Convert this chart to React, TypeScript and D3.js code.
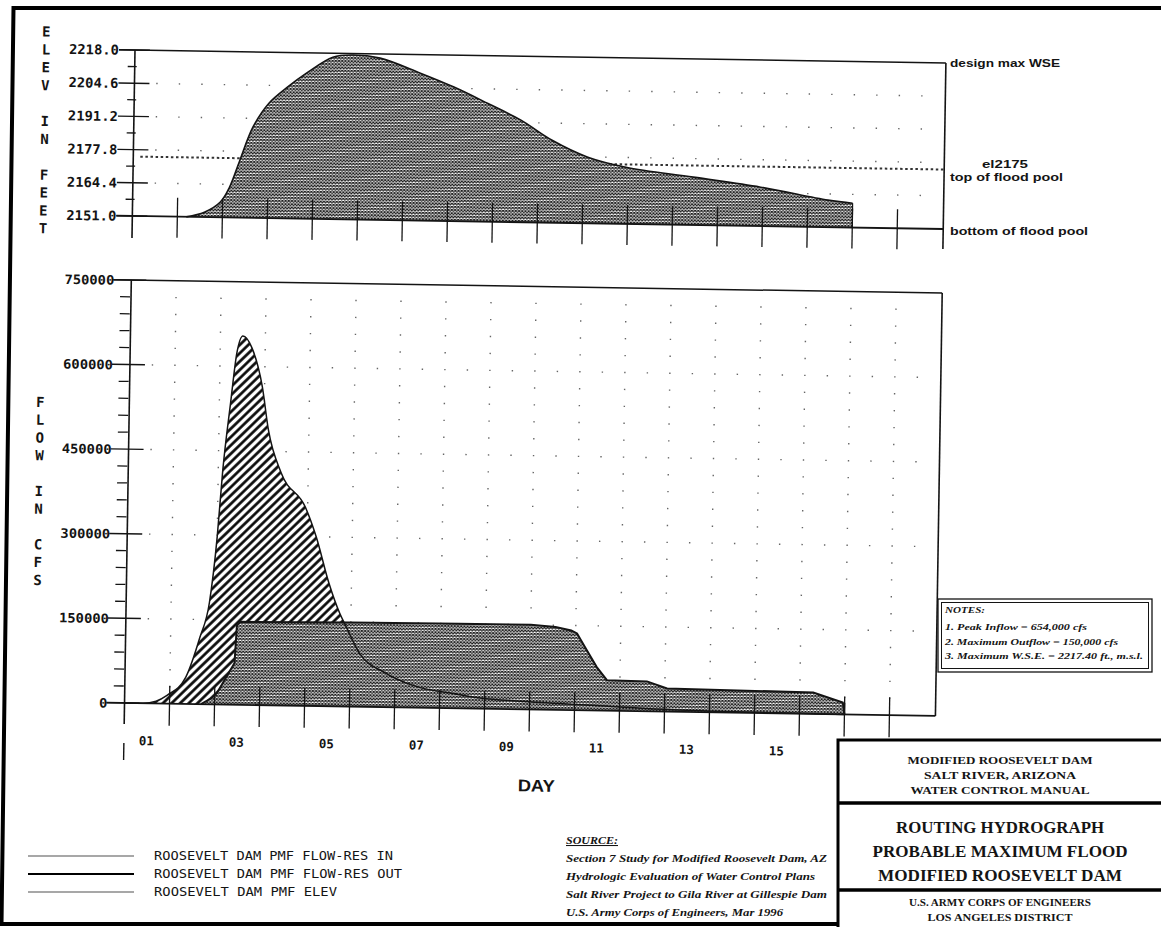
import React from 'react';
import * as d3 from 'd3';

// ---------- data ----------
const elevTicks = [2151.0, 2164.4, 2177.8, 2191.2, 2204.6, 2218.0];
const elevTickLabels = ['2151.0', '2164.4', '2177.8', '2191.2', '2204.6', '2218.0'];
const flowTicks = [0, 150000, 300000, 450000, 600000, 750000];
const flowTickLabels = ['0', '150000', '300000', '450000', '600000', '750000'];
const dayLabels = ['01', '03', '05', '07', '09', '11', '13', '15'];
const dayLabelDays = [1, 3, 5, 7, 9, 11, 13, 15];

const elevDays = [1.2, 1.6, 1.95, 2.15, 2.37, 2.65, 3.0, 3.4, 3.85, 4.4, 4.85, 5.45, 6.35, 7.1, 7.85, 8.6, 9.3, 10.1, 10.95, 12.45, 13.95, 15.45, 16.0];
const elevValues = [2151.0, 2153.0, 2157.2, 2163.3, 2174.2, 2187.7, 2197.5, 2204.0, 2210.2, 2216.4, 2217.4, 2216.3, 2210.5, 2205.1, 2198.8, 2192.2, 2184.3, 2177.7, 2173.9, 2170.3, 2166.7, 2161.9, 2160.8];

const inflowDays = [0, 0.4, 0.7, 0.95, 1.35, 1.65, 1.85, 2.0, 2.1, 2.25, 2.37, 2.5, 2.7, 2.95, 3.1, 3.4, 3.95, 4.2, 4.5, 4.75, 4.9, 5.2, 5.8, 6.55, 7.3, 7.9, 8.9, 10.4, 12.5, 14.5, 16.0];
const inflowValues = [0, 0, 4000, 15000, 47000, 118000, 180000, 297000, 415000, 535000, 623000, 654000, 634000, 564000, 488000, 412000, 352000, 300000, 218000, 165000, 141000, 95000, 60000, 36000, 26000, 19000, 14000, 9000, 3000, 1000, 0];

const outflowDays = [1.7, 1.95, 2.05, 2.43, 2.47, 2.55, 5.0, 7.4, 9.0, 9.55, 9.9, 10.03, 10.25, 10.48, 10.71, 11.6, 12.05, 15.3, 15.96, 16.0];
const outflowValues = [0, 12000, 20000, 74000, 141000, 147000, 149000, 150000, 150000, 147000, 141000, 136000, 107000, 77000, 54000, 53000, 41000, 38000, 21000, 0];

const floodPoolTop = 2175;
const axisTitleTop = ['E', 'L', 'E', 'V', '', 'I', 'N', '', 'F', 'E', 'E', 'T'];
const axisTitleBottom = ['F', 'L', 'O', 'W', '', 'I', 'N', '', 'C', 'F', 'S'];

const legendLabels = ['ROOSEVELT DAM PMF FLOW-RES IN', 'ROOSEVELT DAM PMF FLOW-RES OUT', 'ROOSEVELT DAM PMF ELEV'];
const notesLines = ['1.  Peak Inflow  =  654,000 cfs', '2.  Maximum Outflow =  150,000 cfs', '3.  Maximum W.S.E.  = 2217.40 ft., m.s.l.'];
const sourceLines = ['Section 7 Study for Modified Roosevelt Dam, AZ', 'Hydrologic Evaluation of Water Control Plans', 'Salt River Project to Gila River at Gillespie Dam', 'U.S. Army Corps of Engineers, Mar 1996'];
const titleTop = ['MODIFIED ROOSEVELT DAM', 'SALT RIVER, ARIZONA', 'WATER CONTROL MANUAL'];
const titleMid = ['ROUTING HYDROGRAPH', 'PROBABLE MAXIMUM FLOOD', 'MODIFIED ROOSEVELT DAM'];
const titleBot = ['U.S. ARMY CORPS OF ENGINEERS', 'LOS ANGELES DISTRICT'];

const MONO = "'DejaVu Sans Mono', 'Liberation Mono', monospace";
const SERIF = "'Liberation Serif', 'DejaVu Serif', serif";
const SANS = "'Liberation Sans', 'DejaVu Sans', sans-serif";
const INK = '#141414';

export default function App() {
  const x = d3.scaleLinear().domain([0, 18]).range([135, 945]);
  const yE = d3.scaleLinear().domain([2151, 2218]).range([216, 50]);
  const yF = d3.scaleLinear().domain([0, 750000]).range([703, 280]);

  const elevPts: [number, number][] = elevDays.map((d, i) => [d, elevValues[i]]);
  const inPts: [number, number][] = inflowDays.map((d, i) => [d, inflowValues[i]]);
  const outPts: [number, number][] = outflowDays.map((d, i) => [d, outflowValues[i]]);

  const smooth = d3.curveCatmullRom.alpha(0.5);
  const elevArea = d3.area<[number, number]>().x(d => x(d[0])).y0(yE(2151)).y1(d => yE(d[1])).curve(smooth)(elevPts) || '';
  const elevLine = d3.line<[number, number]>().x(d => x(d[0])).y(d => yE(d[1])).curve(smooth)(elevPts) || '';
  const inArea = d3.area<[number, number]>().x(d => x(d[0])).y0(yF(0)).y1(d => yF(d[1])).curve(d3.curveMonotoneX)(inPts) || '';
  const inLine = d3.line<[number, number]>().x(d => x(d[0])).y(d => yF(d[1])).curve(d3.curveMonotoneX)(inPts) || '';
  const outArea = d3.area<[number, number]>().x(d => x(d[0])).y0(yF(0)).y1(d => yF(d[1])).curve(d3.curveLinear)(outPts) || '';
  const outLine = d3.line<[number, number]>().x(d => x(d[0])).y(d => yF(d[1])).curve(d3.curveLinear)(outPts) || '';

  const days = d3.range(1, 18);
  const halfDays = d3.range(1, 36).map(k => k / 2);
  const xR = x(18) + 1;

  const topDots: { cx: number; cy: number }[] = [];
  elevTicks.slice(1, -1).forEach(t => halfDays.forEach(h => topDots.push({ cx: x(h), cy: yE(t) })));
  const botDots: { cx: number; cy: number }[] = [];
  days.forEach(d => d3.range(1, 25).forEach(j => botDots.push({ cx: x(d), cy: yF(j * 30000) })));
  flowTicks.slice(1, -1).forEach(t => halfDays.filter(h => h % 1 !== 0).forEach(h => botDots.push({ cx: x(h), cy: yF(t) })));

  const topMinor = elevTicks.slice(0, -1).map((t, i) => (t + elevTicks[i + 1]) / 2);
  const botMinor = d3.range(1, 25).map(j => j * 30000).filter(v => v % 150000 !== 0);

  return (
    <svg width={1161} height={927} style={{ position: 'absolute', left: 0, top: 0, background: '#fff' }}>
      <defs>
        <pattern id="xhatch" patternUnits="userSpaceOnUse" width="3.2" height="3.2">
          <rect width="3.2" height="3.2" fill="#fff" />
          <path d="M0,0L3.2,3.2M3.2,0L0,3.2" stroke="#1e1e1e" strokeWidth="1.1" />
        </pattern>
        <pattern id="hatch" patternUnits="userSpaceOnUse" width="6" height="6" patternTransform="rotate(45)">
          <rect width="6" height="6" fill="#fff" />
          <line x1="1.5" y1="0" x2="1.5" y2="6" stroke="#000" strokeWidth="2.6" />
        </pattern>
      </defs>
      <rect width={1161} height={927} fill="#fff" />

      {/* page frame */}
      <path d="M1161,8 L13.5,8 L1.5,924 L1161,924" fill="none" stroke="#000" strokeWidth={4} />

      <g transform="rotate(0.92, 135, 50)" fill="none" stroke={INK}>
        {/* ===== TOP CHART ===== */}
        {topDots.map((p, i) => <rect key={'td' + i} x={p.cx - 0.7} y={p.cy - 0.7} width={1.4} height={1.4} fill="#666" stroke="none" />)}
        <line x1={142} x2={xR} y1={yE(floodPoolTop)} y2={yE(floodPoolTop)} strokeWidth={2} strokeDasharray="2.5,2.6" stroke="#333" />
        <path d={elevArea} fill="url(#xhatch)" stroke="none" />
        <path d={elevLine} strokeWidth={1.6} />
        <line x1={x(16)} x2={x(16)} y1={yE(elevValues[elevValues.length - 1])} y2={yE(2151)} strokeWidth={1.2} />
        <line x1={119} x2={xR} y1={yE(2218)} y2={yE(2218)} strokeWidth={1.5} />
        <line x1={119} x2={xR} y1={yE(2151)} y2={yE(2151)} strokeWidth={1.8} />
        <line x1={135} x2={135} y1={yE(2218)} y2={238} strokeWidth={1.6} />
        <line x1={xR} x2={xR} y1={yE(2218)} y2={236} strokeWidth={1.6} />
        {elevTicks.map((t, i) => <line key={'tm' + i} x1={119} x2={150} y1={yE(t)} y2={yE(t)} strokeWidth={1.4} />)}
        {topMinor.map((t, i) => <line key={'tn' + i} x1={128} x2={137} y1={yE(t)} y2={yE(t)} strokeWidth={1.3} />)}
        {days.map(d => <line key={'tx' + d} x1={x(d)} x2={x(d)} y1={yE(2151) - 19} y2={yE(2151) + 21} strokeWidth={1.3} />)}
        {elevTickLabels.map((s, i) => (
          <text key={'tl' + i} x={119} y={yE(elevTicks[i]) + 5} textAnchor="end" fontFamily={MONO} fontWeight="bold" fontSize={13.5} fill={INK} stroke="none" textLength={50} lengthAdjust="spacingAndGlyphs">{s}</text>
        ))}
        {axisTitleTop.map((c, i) => c ? (
          <text key={'at' + i} x={46} y={33 + i * 17.9 + 5} textAnchor="middle" fontFamily={MONO} fontWeight="bold" fontSize={14} fill={INK} stroke="none">{c}</text>
        ) : null)}

        {/* ===== BOTTOM CHART ===== */}
        {botDots.map((p, i) => <rect key={'bd' + i} x={p.cx - 0.7} y={p.cy - 0.7} width={1.4} height={1.4} fill="#666" stroke="none" />)}
        <path d={inArea} fill="url(#hatch)" stroke="none" />
        <path d={outArea} fill="url(#xhatch)" stroke="none" />
        <path d={inLine} strokeWidth={1.5} />
        <path d={outLine} strokeWidth={2} />
        <line x1={x(16)} x2={x(16)} y1={yF(outflowValues[outflowValues.length - 2])} y2={yF(0)} strokeWidth={1.5} />
        <line x1={117} x2={xR} y1={yF(750000)} y2={yF(750000)} strokeWidth={1.5} />
        <line x1={117} x2={xR} y1={yF(0)} y2={yF(0)} strokeWidth={1.8} />
        <line x1={135} x2={135} y1={yF(750000)} y2={724} strokeWidth={1.6} />
        <line x1={135} x2={135} y1={743} y2={760} strokeWidth={1.4} />
        <line x1={xR} x2={xR} y1={yF(750000)} y2={yF(0)} strokeWidth={1.6} />
        {flowTicks.map((t, i) => <line key={'bm' + i} x1={117} x2={150} y1={yF(t)} y2={yF(t)} strokeWidth={1.4} />)}
        {botMinor.map((t, i) => <line key={'bn' + i} x1={124} x2={134} y1={yF(t)} y2={yF(t)} strokeWidth={1.3} />)}
        {days.map(d => <line key={'bx' + d} x1={x(d)} x2={x(d)} y1={yF(0) - 18} y2={yF(0) + 22} strokeWidth={1.3} />)}
        {flowTickLabels.map((s, i) => (
          <text key={'bl' + i} x={118} y={yF(flowTicks[i]) + 5} textAnchor="end" fontFamily={MONO} fontWeight="bold" fontSize={13} fill={INK} stroke="none" textLength={s.length * 8.3} lengthAdjust="spacingAndGlyphs">{s}</text>
        ))}
        {axisTitleBottom.map((c, i) => c ? (
          <text key={'ab' + i} x={46} y={403.5 + i * 17.8 + 5} textAnchor="middle" fontFamily={MONO} fontWeight="bold" fontSize={14} fill={INK} stroke="none">{c}</text>
        ) : null)}
        {dayLabels.map((s, i) => (
          <text key={'dl' + i} x={x(dayLabelDays[i] - 0.5)} y={745} textAnchor="middle" fontFamily={MONO} fontWeight="bold" fontSize={12.5} fill={INK} stroke="none">{s}</text>
        ))}
        <text x={548} y={785} textAnchor="middle" fontFamily={SANS} fontWeight="bold" fontSize={17} fill={INK} stroke="none" textLength={37} lengthAdjust="spacingAndGlyphs">DAY</text>
      </g>

      {/* right-side labels of the elevation chart */}
      <g fontFamily={SANS} fontWeight="bold" fontSize={11} fill={INK}>
        <text x={950} y={67} textLength={110} lengthAdjust="spacingAndGlyphs">design max WSE</text>
        <text x={982} y={168} textLength={46} lengthAdjust="spacingAndGlyphs">el2175</text>
        <text x={950} y={181} textLength={113} lengthAdjust="spacingAndGlyphs">top of flood pool</text>
        <text x={950} y={235} textLength={138} lengthAdjust="spacingAndGlyphs">bottom of flood pool</text>
      </g>

      {/* legend */}
      <g>
        {legendLabels.map((s, i) => (
          <g key={'lg' + i}>
            <line x1={28} x2={134} y1={856 + i * 18} y2={856 + i * 18} stroke={i === 1 ? '#000' : '#8a8a8a'} strokeWidth={i === 1 ? 2 : 1.6} />
            <text x={154} y={860 + i * 18} fontFamily={MONO} fontSize={11.5} fill={INK} textLength={[239, 248, 183][i]} lengthAdjust="spacingAndGlyphs">{s}</text>
          </g>
        ))}
      </g>

      {/* source */}
      <g fontFamily={SERIF} fontStyle="italic" fontWeight="bold" fontSize={10.5} fill={INK}>
        <text x={566} y={844} textDecoration="underline" textLength={52} lengthAdjust="spacingAndGlyphs">SOURCE:</text>
        {sourceLines.map((s, i) => (
          <text key={'sr' + i} x={566} y={862 + i * 18} textLength={[261, 249, 261, 217][i]} lengthAdjust="spacingAndGlyphs">{s}</text>
        ))}
      </g>

      {/* notes box */}
      <g>
        <rect x={938} y={599} width={214} height={73} fill="#fff" stroke={INK} strokeWidth={1.3} />
        <rect x={941.5} y={602.5} width={207} height={66} fill="none" stroke={INK} strokeWidth={1} />
        <g fontFamily={SERIF} fontStyle="italic" fontWeight="bold" fontSize={9} fill={INK}>
          <text x={945} y={613} textLength={40} lengthAdjust="spacingAndGlyphs">NOTES:</text>
          {notesLines.map((s, i) => (
            <text key={'nt' + i} x={945} y={630 + i * 14.5} textLength={[142, 173, 198][i]} lengthAdjust="spacingAndGlyphs">{s}</text>
          ))}
        </g>
      </g>

      {/* title block */}
      <g>
        <rect x={838} y={740} width={340} height={200} fill="#fff" stroke="#000" strokeWidth={3} />
        <line x1={838} x2={1170} y1={803} y2={803} stroke="#000" strokeWidth={3.5} />
        <line x1={838} x2={1170} y1={890} y2={890} stroke="#000" strokeWidth={3.5} />
        <g fontFamily={SERIF} fontWeight="bold" fill={INK} textAnchor="middle">
          {titleTop.map((s, i) => (
            <text key={'t1' + i} x={1000} y={764 + i * 15} fontSize={11} textLength={[185, 152, 179][i]} lengthAdjust="spacingAndGlyphs">{s}</text>
          ))}
          {titleMid.map((s, i) => (
            <text key={'t2' + i} x={1000} y={833 + i * 24} fontSize={16.5} textLength={[208, 255, 244][i]} lengthAdjust="spacingAndGlyphs">{s}</text>
          ))}
          {titleBot.map((s, i) => (
            <text key={'t3' + i} x={1000} y={906 + i * 15} fontSize={10.5} textLength={[182, 145][i]} lengthAdjust="spacingAndGlyphs">{s}</text>
          ))}
        </g>
      </g>
    </svg>
  );
}
